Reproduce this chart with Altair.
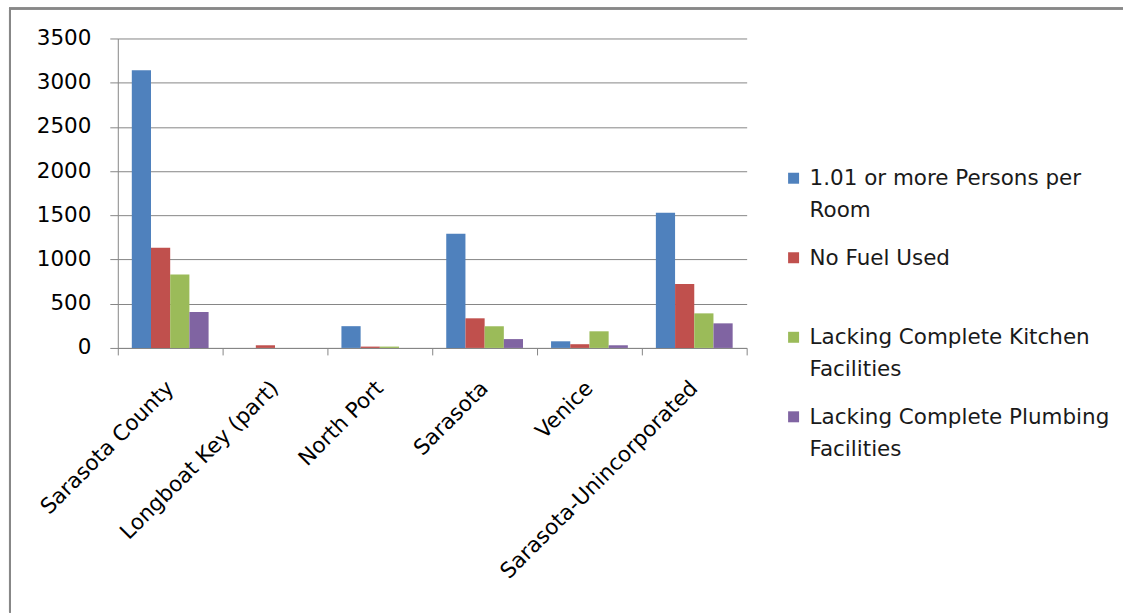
import altair as alt
import pandas as pd

# Sarasota County housing conditions by place
places = [
    "Sarasota County",
    "Longboat Key (part)",
    "North Port",
    "Sarasota",
    "Venice",
    "Sarasota-Unincorporated",
]
series = [
    "1.01 or more Persons per Room",
    "No Fuel Used",
    "Lacking Complete Kitchen Facilities",
    "Lacking Complete Plumbing Facilities",
]
# wrapped legend text, one entry per series
series_labels = [
    "1.01 or more Persons per\nRoom",
    "No Fuel Used",
    "Lacking Complete Kitchen\nFacilities",
    "Lacking Complete Plumbing\nFacilities",
]
crowded = [3140, 0, 246, 1290, 75, 1530]
no_fuel = [1133, 30, 15, 335, 42, 722]
no_kitchen = [830, 0, 15, 245, 188, 391]
no_plumbing = [405, 0, 0, 100, 30, 278]
colors = ["#4F81BD", "#C0504D", "#9BBB59", "#8064A2"]

values_by_series = [crowded, no_fuel, no_kitchen, no_plumbing]
rows = []
for s, vals in zip(series, values_by_series):
    for p, v in zip(places, vals):
        rows.append({"place": p, "series": s, "value": v})
df = pd.DataFrame(rows)
legend_df = pd.DataFrame({"series": series, "label": series_labels})

FONT = "DejaVu Sans"
GRID = "#868686"
SIZE = 21.5

color_scale = alt.Scale(domain=series, range=colors)

bars = alt.Chart(df).mark_bar().encode(
    x=alt.X(
        "place:N",
        sort=places,
        title=None,
        scale=alt.Scale(paddingInner=0, paddingOuter=0),
        axis=alt.Axis(
            labelAngle=-45,
            labelAlign="right",
            labelBaseline="middle",
            labelPadding=30,
            tickBand="extent",
            tickSize=7,
            tickColor=GRID,
            domainColor=GRID,
            labelFont=FONT,
            labelFontSize=SIZE,
            labelColor="#000000",
            labelLimit=400,
            grid=False,
        ),
    ),
    xOffset=alt.XOffset(
        "series:N",
        sort=series,
        scale=alt.Scale(paddingInner=0, paddingOuter=0.73),
    ),
    y=alt.Y(
        "value:Q",
        title=None,
        scale=alt.Scale(domain=[0, 3500], nice=False),
        axis=alt.Axis(
            values=[0, 500, 1000, 1500, 2000, 2500, 3000, 3500],
            format="d",
            tickSize=8,
            labelPadding=19,
            tickColor=GRID,
            domainColor=GRID,
            gridColor=GRID,
            labelFont=FONT,
            labelFontSize=SIZE,
            labelColor="#000000",
        ),
    ),
    color=alt.Color("series:N", scale=color_scale, legend=None),
)

legend_y = alt.Y(
    "series:N",
    sort=series,
    axis=None,
    scale=alt.Scale(type="point", range=[140, 379], padding=0),
)

legend_squares = alt.Chart(legend_df).mark_square(size=121, opacity=1).encode(
    x=alt.value(677),
    y=legend_y,
    color=alt.Color("series:N", scale=color_scale, legend=None),
)

legend_text = alt.Chart(legend_df).mark_text(
    align="left",
    baseline="top",
    lineBreak="\n",
    lineHeight=32,
    dy=-10,
    font=FONT,
    fontSize=SIZE,
    color="#1a1a1a",
).encode(
    x=alt.value(693),
    y=legend_y,
    text="label:N",
)

legend = alt.layer(legend_squares, legend_text)

# outer chart frame (left and top edges)
frame_left = alt.Chart(legend_df).mark_rule(color="#888888", strokeWidth=2).encode(
    x=alt.value(-108), y=alt.value(-29), y2=alt.value(575)
)
frame_top = alt.Chart(legend_df).mark_rule(color="#888888", strokeWidth=2).encode(
    x=alt.value(-109), x2=alt.value(1007), y=alt.value(-30)
)

chart = (
    alt.layer(frame_left, frame_top, bars, legend)
    .resolve_scale(y="independent")
    .properties(
        width=630,
        height=310,
        padding={"left": 8, "top": 7, "right": 0, "bottom": 0},
        background="#ffffff",
    )
    .configure_view(strokeWidth=0)
)

chart.save("out.html", embed_options={"renderer": "svg", "actions": False})
